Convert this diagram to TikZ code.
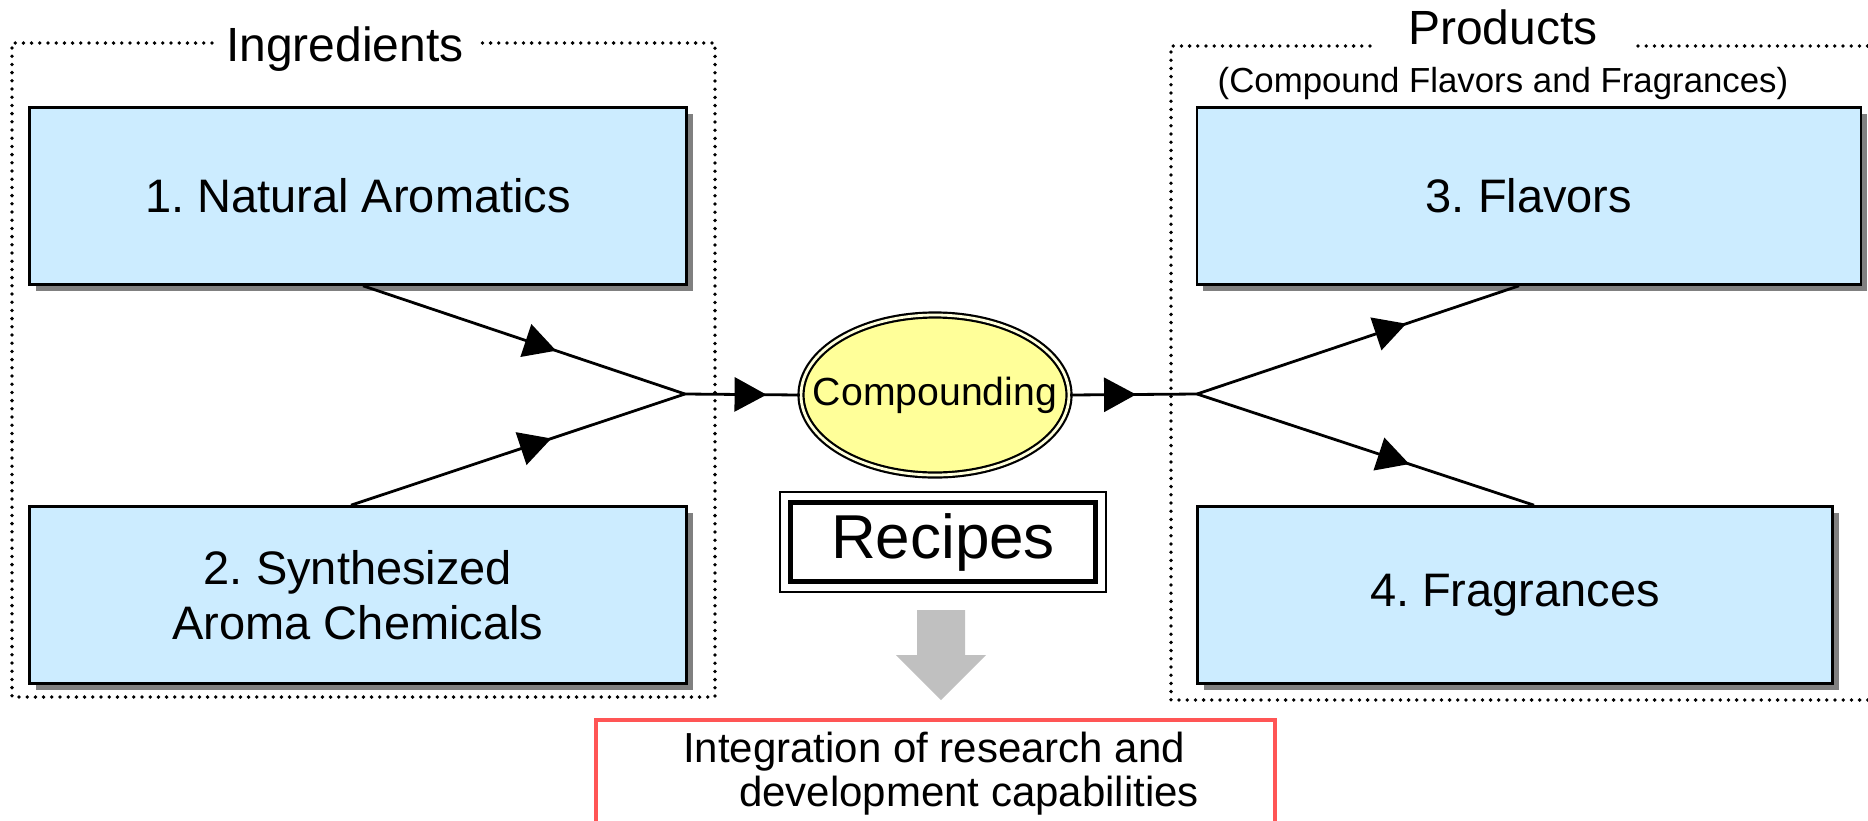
\documentclass[tikz,border=0pt]{standalone}
\usepackage{fontspec}
\setmainfont{Liberation Sans}
\frenchspacing
\usetikzlibrary{arrows.meta,shapes.geometric,decorations.markings,calc,shadows}
\definecolor{boxblue}{RGB}{204,236,255}
\definecolor{compyellow}{RGB}{255,255,153}
\definecolor{arrowgray}{RGB}{192,192,192}
\definecolor{redline}{RGB}{255,85,85}
\definecolor{shadowgray}{RGB}{128,128,128}
\begin{document}
\begin{tikzpicture}[x=0.5pt,y=-0.5pt,
  itembox/.style={draw, line width=1.3pt, fill=boxblue, minimum height=88.5pt, align=center,
    font=\fontsize{23.5}{27.5}\selectfont,
    drop shadow={shadow xshift=3pt, shadow yshift=-3pt, fill=shadowgray, opacity=1}},
  conn/.style={line width=1.4pt},
  midarrow/.style={postaction={decorate}, decoration={markings,
    mark=at position #1 with {\arrow{Triangle[length=16pt,width=17pt]}}}},
  frame/.style={line width=1.9pt, dash pattern=on 0pt off 4.1pt, line cap=round},
  biglabel/.style={font=\fontsize{24}{28}\selectfont, anchor=base},
]
\useasboundingbox (0,0) rectangle (1868,820);
\clip (0,0) rectangle (1868,820);

% dotted frames
\draw[frame] (212,43) -| (12,697) -| (715,43) -- (477,43);
\draw[frame] (1370,46) -| (1171,700) -- (1880,700);
\draw[frame] (1638,46) -- (1880,46);

\node[biglabel] (ingl) at (345,61) {Ingredients};
\node[biglabel] (prodl) at (1503,44) {Products};
\node[font=\fontsize{17.4}{20}\selectfont, anchor=base] (prods) at (1503,92) {(Compound Flavors and Fragrances)};

% boxes
\node[itembox, minimum width=328.5pt] (b1) at (358,196) {1. Natural Aromatics};
\node[itembox, minimum width=328.5pt] (b2) at (358,595) {2. Synthesized\\Aroma Chemicals};
\node[itembox, minimum width=332pt] (b3) at (1529,196) {3. Flavors};
\node[itembox, minimum width=317.5pt] (b4) at (1515,595) {4. Fragrances};

% compounding
\node[ellipse, draw, line width=1.1pt, double=compyellow!35!white, double distance=1.4pt,
  fill=compyellow, minimum width=134pt, minimum height=80pt, inner sep=0pt,
  font=\fontsize{19.6}{22}\selectfont] (comp) at (935,395) {\makebox[0pt]{Compounding}};

\coordinate (m) at (685,394);
\coordinate (s) at (1197,394);

\draw[conn, midarrow=0.6] ([xshift=2.5pt]b1.south) -- (m);
\draw[conn, midarrow=0.6] ([xshift=-3.5pt]b2.north) -- (m);
\draw[conn, midarrow=0.71] (m) -- (comp.west);
\draw[conn, midarrow=0.52] (comp.east) -- (s);
\draw[conn, midarrow=0.65] (s) -- ([xshift=-5pt]b3.south);
\draw[conn, midarrow=0.63] (s) -- ([xshift=9.5pt]b4.north);

% recipes
\node[draw, line width=0.6pt, minimum width=163pt, minimum height=50pt,
  font=\fontsize{31}{36}\selectfont] (rec) at (943,542) {Recipes};
\draw[line width=2.5pt] ([shift={(5.5pt,-5.5pt)}]rec.north west) rectangle ([shift={(-5.5pt,5.5pt)}]rec.south east);

% grey arrow
\fill[arrowgray] (917,610) -- (965,610) -- (965,655) -- (986,655) -- (941,700) -- (896,655) -- (917,655) -- cycle;

% red box
\draw[redline, line width=1.6pt] (596,720) rectangle (1275,840);
\node[font=\fontsize{21}{25}\selectfont, anchor=base] (t1) at (934,762) {Integration of research and};
\node[font=\fontsize{21}{25}\selectfont, anchor=base] (t2) at (969,806) {development capabilities};
\end{tikzpicture}
\end{document}
